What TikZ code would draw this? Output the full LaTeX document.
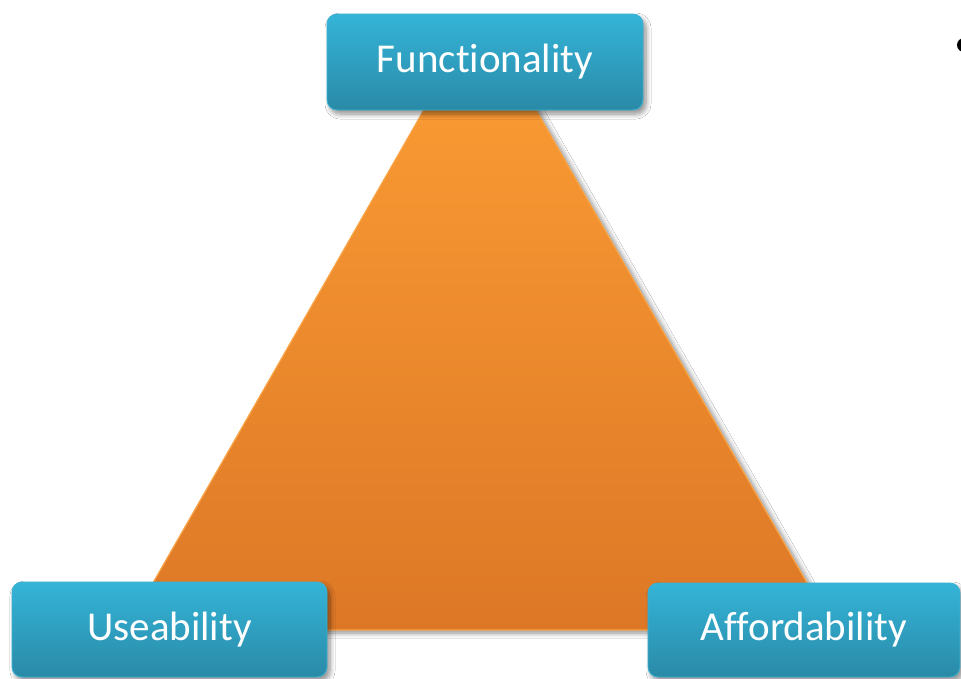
\documentclass[tikz,border=0pt]{standalone}
\usepackage{fontspec}
\setmainfont{Carlito}[Ligatures={NoCommon}]
\usetikzlibrary{shadows.blur}
\definecolor{boxtop}{HTML}{34B4D8}
\definecolor{boxbot}{HTML}{2A8AA7}
\definecolor{boxedge}{HTML}{3BB3D4}
\definecolor{tritop}{HTML}{FA9C34}
\definecolor{tribot}{HTML}{DD7726}
\definecolor{triedge}{HTML}{FBA445}
\tikzset{
  box/.style={rectangle, rounded corners=10pt, top color=boxtop, bottom color=boxbot,
    draw=boxedge, line width=0.8pt, inner sep=0pt, text=white,
    font=\fontsize{41}{49}\selectfont,
    blur shadow={shadow xshift=3pt, shadow yshift=-4pt, shadow blur steps=8, shadow blur radius=5pt, shadow opacity=45}},
  tri/.style={top color=tritop, bottom color=tribot, draw=triedge, line width=1.2pt,
    blur shadow={shadow xshift=4pt, shadow yshift=-3pt, shadow blur steps=8, shadow blur radius=5pt, shadow opacity=45}},
  bulletdot/.style={circle, fill=black, inner sep=0pt, minimum size=14pt}
}
\begin{document}
\begin{tikzpicture}[x=1pt,y=-1pt]
\useasboundingbox (0,0) rectangle (961,678);
\clip (0,0) rectangle (961,678);
\fill[white] (0,0) rectangle (961,678);
\coordinate (tl) at (452.5,60);
\coordinate (tr) at (507.5,60);
\coordinate (bl) at (126,630);
\coordinate (br) at (834,630);
\path[tri] (tl) -- (tr) -- (br) -- (bl) -- cycle;
\node[box, minimum width=316pt, minimum height=96pt] (func) at (485,62) {Functionality};
\node[box, minimum width=315pt, minimum height=95pt] (use) at (169.5,629.5) {Useability};
\node[box, minimum width=312pt, minimum height=94pt] (aff) at (804,630) {Affordability};
\node[bulletdot] (bullet) at (964,45) {};
\end{tikzpicture}
\end{document}
